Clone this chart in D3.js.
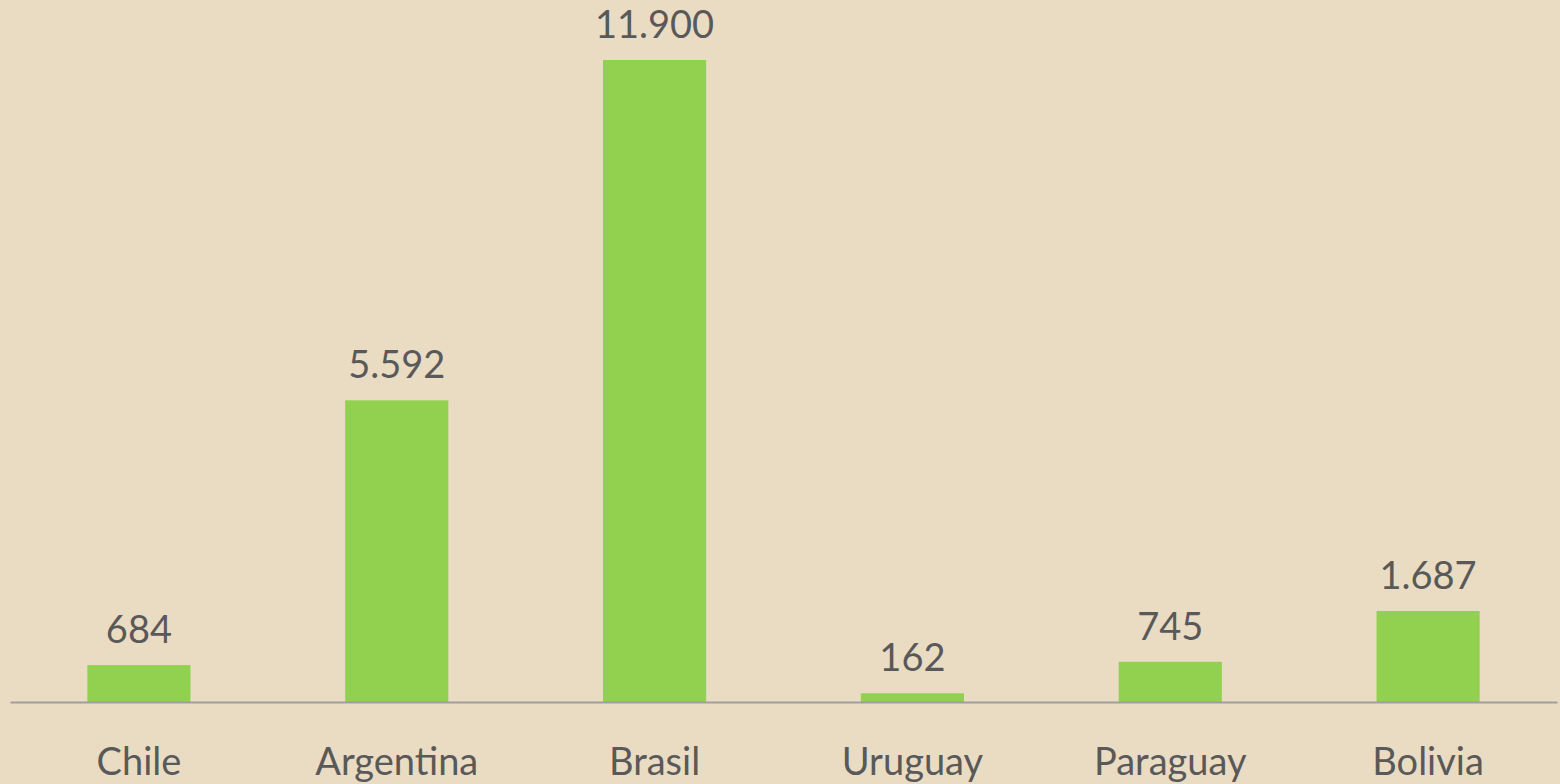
<!DOCTYPE html>
<html>
<head>
<meta charset="utf-8">
<script src="https://cdn.jsdelivr.net/npm/d3@7"></script>
<style>
  html, body { margin: 0; padding: 0; background: #EADCC3; }
  svg { display: block; }
  text { font-family: 'Lato', 'Open Sans', sans-serif; fill: #595959; }
</style>
</head>
<body>
<div id="chart"></div>
<script>
const countries = ['Chile', 'Argentina', 'Brasil', 'Uruguay', 'Paraguay', 'Bolivia'];
const values = [684, 5592, 11900, 162, 745, 1687];

const width = 1560;
const height = 784;
const baseY = 702;
const topY = 60;

const locale = d3.formatLocale({ decimal: ',', thousands: '.', grouping: [3], currency: ['', ''] });
const fmt = locale.format(',d');

const data = countries.map((c, i) => ({ country: c, value: values[i] }));

const svg = d3.select('#chart')
    .append('svg')
    .attr('width', width)
    .attr('height', height);

svg.append('rect')
    .attr('width', width)
    .attr('height', height)
    .attr('fill', '#EADCC3');

const x = d3.scaleBand()
    .domain(countries)
    .range([10, 1557])
    .paddingInner(0.6)
    .paddingOuter(0.3);

const y = d3.scaleLinear()
    .domain([0, d3.max(values)])
    .range([baseY, topY]);

// bars
svg.selectAll('.bar')
    .data(data)
    .enter()
    .append('rect')
    .attr('class', 'bar')
    .attr('x', d => x(d.country))
    .attr('width', x.bandwidth())
    .attr('y', d => y(d.value))
    .attr('height', d => baseY - y(d.value))
    .attr('fill', '#92D050');

// baseline axis
const axis = svg.append('g')
    .attr('transform', `translate(0,${baseY})`)
    .call(d3.axisBottom(x).tickSize(0).tickPadding(73));
axis.select('.domain')
    .attr('stroke', '#9E9E9E')
    .attr('stroke-width', 2);
axis.selectAll('text')
    .style('font-family', "'Lato', 'Open Sans', sans-serif")
    .style('font-size', '38px')
    .attr('fill', '#595959')
    .attr('dy', '0');

// value labels
svg.selectAll('.label')
    .data(data)
    .enter()
    .append('text')
    .attr('class', 'label')
    .attr('x', d => x(d.country) + x.bandwidth() / 2)
    .attr('y', d => y(d.value) - 22)
    .attr('text-anchor', 'middle')
    .style('font-size', '38px')
    .text(d => fmt(d.value));
</script>
</body>
</html>
